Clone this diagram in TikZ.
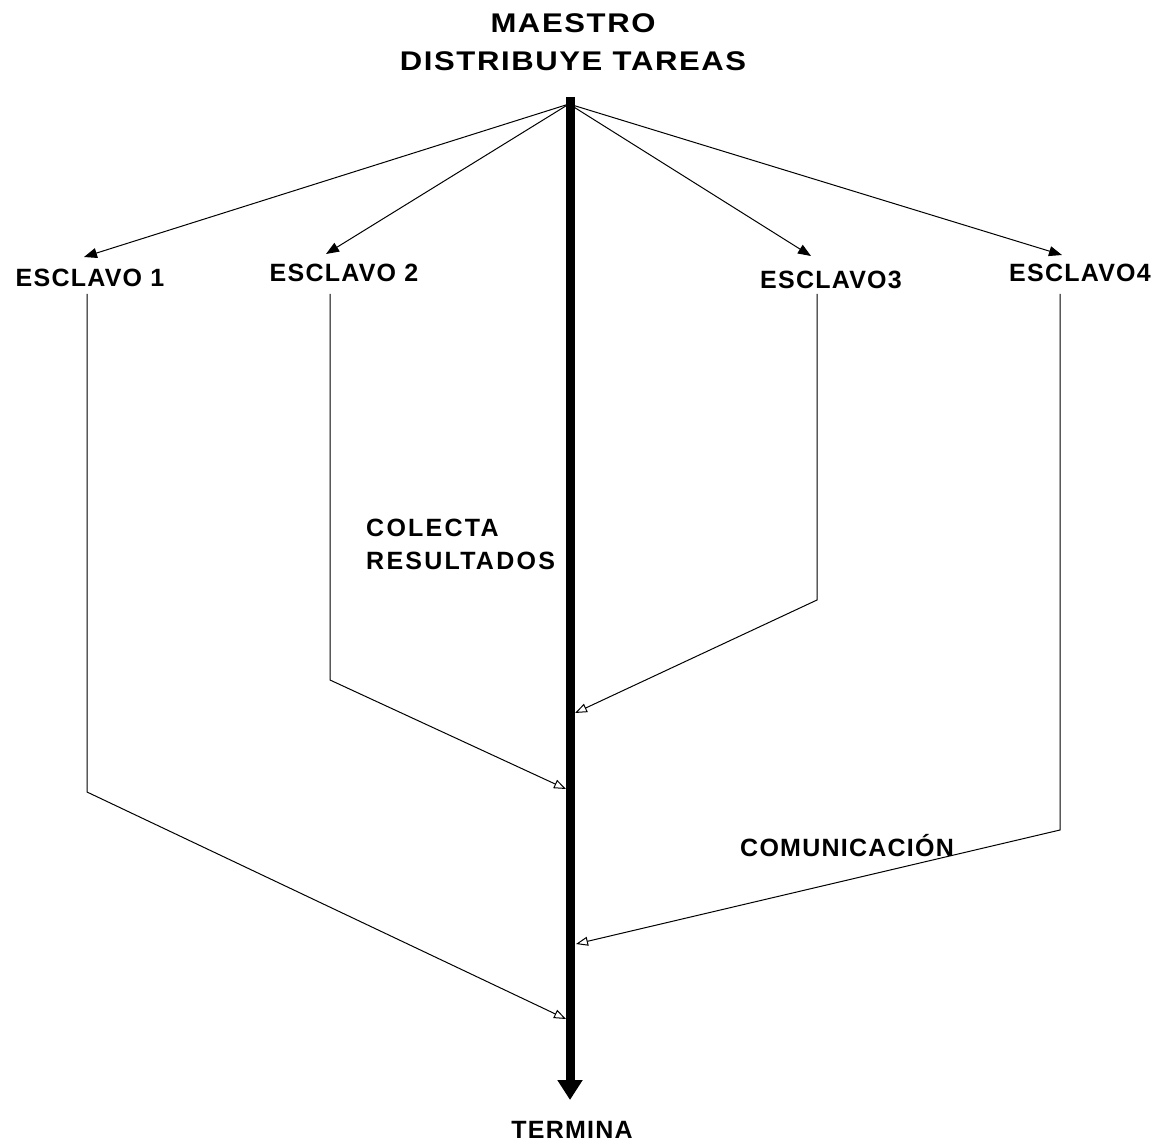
\documentclass[tikz,border=0pt]{standalone}
\usepackage{fontspec}
\setmainfont{Liberation Sans}
\newfontfamily\lblfont{Liberation Sans}[LetterSpace=5]
\newfontfamily\colfont{Liberation Sans}[LetterSpace=9]
\newfontfamily\titlefont{Liberation Sans}[LetterSpace=6,FakeStretch=1.15]
\usetikzlibrary{arrows.meta}
\begin{document}
\begin{tikzpicture}[x=1pt,y=-1pt,
  lbl/.style={font=\lblfont\bfseries\fontsize{25}{33}\selectfont, inner sep=0pt},
  send/.style={line width=1pt, -{Triangle[length=13pt,width=10pt]}},
  back/.style={line width=1pt, -{Triangle[open,length=12pt,width=9pt,line width=1pt]}},
  trunk/.style={line width=9pt, -{Triangle[length=20pt,width=24pt]}}]
\useasboundingbox (0,0) rectangle (1159,1147);
% master and the main timeline
\node[lbl, font=\titlefont\bfseries\fontsize{27}{38}\selectfont, align=center] (title) at (573,42) {MAESTRO\\DISTRIBUYE TAREAS};
\coordinate (m) at (570,97);
\coordinate (mend) at (570,1100);
\draw[trunk] (m) -- (mend);
\node[lbl] (fin) at (572,1130) {TERMINA};
% slaves
\node[lbl] (e1) at (90,278) {ESCLAVO 1};
\node[lbl] (e2) at (344,273) {ESCLAVO 2};
\node[lbl] (e3) at (831,280) {ESCLAVO3};
\node[lbl] (e4) at (1080,273) {ESCLAVO4};
\coordinate (t1) at (84,257);
\coordinate (t2) at (326,254);
\coordinate (t3) at (811,256);
\coordinate (t4) at (1062,255);
\coordinate (m1) at (569,104);
\draw[send] (m1) -- (t1);
\draw[send] (m1) -- (t2);
\draw[send] (m1) -- (t3);
\draw[send] (m1) -- (t4);
% result paths back to the master
\coordinate (b1) at (87,792);
\coordinate (b2) at (330,680);
\coordinate (b3) at (817,600);
\coordinate (b4) at (1060,830);
\coordinate (r1) at (566,1019);
\coordinate (r2) at (566,789);
\coordinate (r3) at (575,713);
\coordinate (r4) at (576,944);
\draw[back] (87,294) -- (b1) -- (r1);
\draw[back] (330,294) -- (b2) -- (r2);
\draw[back] (817,294) -- (b3) -- (r3);
\draw[back] (1060,294) -- (b4) -- (r4);
% labels
\node[lbl, font=\colfont\bfseries\fontsize{25}{33}\selectfont, align=left, anchor=west] (col) at (366,544) {COLECTA\\RESULTADOS};
\node[lbl, anchor=west] (com) at (740,846) {COMUNICACIÓN};
\end{tikzpicture}
\end{document}
